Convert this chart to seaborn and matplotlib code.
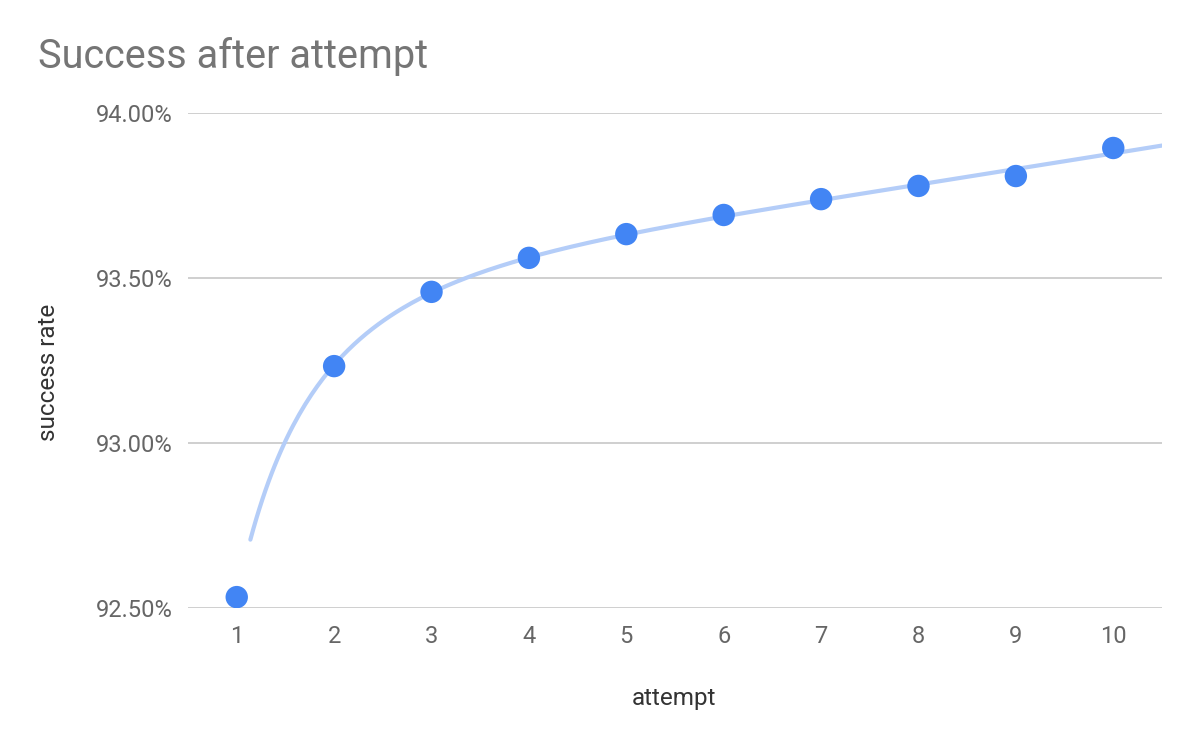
import numpy as np
import pandas as pd
import matplotlib
matplotlib.use("Agg")
import matplotlib.pyplot as plt
import seaborn as sns
from matplotlib.ticker import FuncFormatter

attempt = [1, 2, 3, 4, 5, 6, 7, 8, 9, 10]
success_rate = [92.533, 93.233, 93.458, 93.561, 93.633, 93.691, 93.739, 93.779, 93.809, 93.894]
y_ticks = [92.5, 93.0, 93.5, 94.0]
x_ticks = [1, 2, 3, 4, 5, 6, 7, 8, 9, 10]

sns.set_theme(style="white")
plt.rcParams['font.family'] = ['Roboto', 'DejaVu Sans']

df = pd.DataFrame({"attempt": attempt, "success": success_rate})

# trendline fitted from the data (polynomial in log(x))
coef = np.polyfit(np.log(df["attempt"]), df["success"], 3)
tx = np.linspace(1.14, 10.5, 300)
trend = pd.DataFrame({"attempt": tx, "success": np.polyval(coef, np.log(tx))})

fig = plt.figure(figsize=(12, 7.42), dpi=100)
ax = fig.add_axes([0.1567, 0.1806, 0.8116, 0.6671])

for y in y_ticks:
    ax.axhline(y, color="#cccccc", lw=1.3, zorder=0)

sns.lineplot(data=trend, x="attempt", y="success", ax=ax, color="#b4cdf8", lw=3, zorder=2)
sns.scatterplot(data=df, x="attempt", y="success", ax=ax, color="#4285f4", s=260,
                edgecolor="none", zorder=3)

ax.set_xlim(0.5, 10.5)
ax.set_ylim(92.5, 94.0)
ax.set_xticks(x_ticks)
ax.set_yticks(y_ticks)
ax.yaxis.set_major_formatter(FuncFormatter(lambda v, p: f"{v:.2f}%"))
ax.tick_params(axis="both", length=0, labelsize=17, labelcolor="#666666")
ax.tick_params(axis="y", pad=11)
ax.tick_params(axis="x", pad=12)
for s in ax.spines.values():
    s.set_visible(False)
ax.grid(False)

ax.set_xlabel("attempt", fontsize=17.5, color="#333333")
ax.set_ylabel("success rate", fontsize=17.5, color="#333333")
ax.xaxis.set_label_coords(0.499, -0.160)
ax.yaxis.set_label_coords(-0.1314, 0.477)

fig.text(38 / 1200, 1 - 56 / 742, "Success after attempt", fontsize=28.5, color="#757575",
         ha="left", va="center")

fig.savefig("out.png", dpi=100)
